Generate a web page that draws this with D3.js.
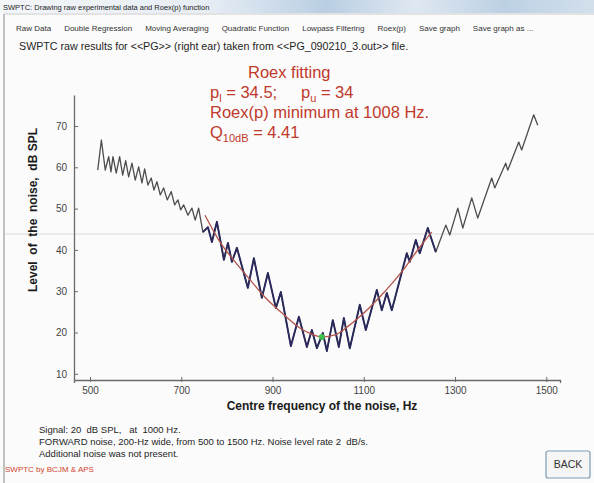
<!DOCTYPE html>
<html>
<head>
<meta charset="utf-8">
<script src="https://cdn.jsdelivr.net/npm/d3@7"></script>
<style>
  html, body { margin: 0; padding: 0; background: #fbfbfb; }
  svg { display: block; font-family: Arial, "Liberation Sans", sans-serif; }
  text { white-space: pre; }
</style>
</head>
<body>
<svg id="chart" width="594" height="483"></svg>
<script>
// Tracked noise level (Bekesy-style zigzag) against noise centre frequency
const freqs = [
  517, 525, 533.5, 541, 546, 550.4, 557.6, 565, 571.7, 578.2, 584.8, 592, 599.2, 606.7,
  613.9, 619.8, 627, 634.3, 640.2, 646.8, 654, 661.4, 669.3, 678.1, 685.5, 692.8, 698.7,
  705.2, 714.7, 723.4, 730.6, 738.1,
  747.5, 758.5, 767.2, 778.2, 793.5, 802.3, 811, 822, 846, 859.2, 876.7, 889.9, 907.4,
  918.3, 940.2, 957.8, 975.3, 986.2, 997.2, 1010.3, 1019.1, 1032.2, 1045.4, 1056.3,
  1069.4, 1091.3, 1104.5, 1128.6, 1139.5, 1150.5, 1161.4, 1194.3, 1200.8, 1214, 1222.7,
  1240.3, 1257.8,
  1279.7, 1288.4, 1306, 1317, 1336.6, 1349.8, 1380.4, 1387, 1411, 1415.5, 1439.6, 1446,
  1472.4, 1481.2
];
const levels = [
  59.3, 66.6, 59.3, 62.6, 58.9, 62.6, 58.6, 62.6, 58.1, 61.6, 57.7, 61.0, 56.9, 60.1,
  56.2, 59.6, 55.7, 57.4, 54.5, 56.5, 53.3, 55.0, 52.1, 54.1, 50.9, 52.1, 49.7,
  50.9, 48.4, 50.1, 47.2, 50.1,
  44.3, 45.5, 41.9, 46.8, 37.6, 41.7, 37.1, 40.5, 30.8, 38.0, 28.4, 34.4, 25.9,
  29.8, 16.7, 23.8, 16.5, 20.6, 16.2, 19.9, 15.5, 23.0, 16.5, 23.5,
  16.2, 26.7, 20.6, 30.3, 25.4, 29.6, 25.4, 39.2, 37.1, 42.4, 39.2,
  45.3, 39.5,
  46.0, 43.6, 50.1, 45.3, 52.6, 47.7, 57.4, 55.0, 61.0, 59.3, 66.1, 64.2,
  72.7, 70.2
];

// Frequency span used for the Roex(p) fit
const fitRange = [740, 1260];

// Fitted Roex(p) curve
const fitFreqs  = [752, 785, 818, 846, 883, 923, 960, 986, 1008, 1037, 1063, 1091, 1135, 1186, 1223, 1249];
const fitLevels = [48.4, 41.9, 37.1, 33.4, 28.6, 24.5, 21.1, 19.6, 18.9, 19.4, 21.3, 23.8, 28.6, 35.1, 40.7, 44.3];

// Fit parameters
const pLower = 34.5;
const pUpper = 34;
const roexMinFreq = 1008;
const roexMinLevel = 18.9;
const q10dB = 4.41;

const xTicks = [500, 700, 900, 1100, 1300, 1500];
const yTicks = [10, 20, 30, 40, 50, 60, 70];

const menuItems = ["Raw Data", "Double Regression", "Moving Averaging", "Quadratic Function",
                   "Lowpass Filtering", "Roex(p)", "Save graph", "Save graph as ..."];

const svg = d3.select("#chart");
const W = 594, H = 483;

// ---- window chrome ----
const defs = svg.append("defs");
const tg = defs.append("linearGradient").attr("id", "titleGrad").attr("x1", 0).attr("x2", 1).attr("y1", 0).attr("y2", 0);
[["0%", "#f3f6f9"], ["35%", "#e6edf4"], ["55%", "#b9cee3"], ["70%", "#dfe8f1"], ["85%", "#bcd0e4"], ["100%", "#d3e0ec"]]
  .forEach(([o, c]) => tg.append("stop").attr("offset", o).attr("stop-color", c));

svg.append("rect").attr("x", 0).attr("y", 0).attr("width", W).attr("height", H).attr("fill", "#fbfbfb");
svg.append("rect").attr("x", 0).attr("y", 0).attr("width", W).attr("height", 13).attr("fill", "url(#titleGrad)");
svg.append("text").attr("x", 3).attr("y", 9.5).attr("font-size", 7.5).attr("fill", "#222")
  .text("SWPTC: Drawing raw experimental data and Roex(p) function");
svg.append("line").attr("x1", 4).attr("x2", 4).attr("y1", 14).attr("y2", H).attr("stroke", "#9a9a9a").attr("stroke-width", 1.2);
svg.append("line").attr("x1", 4).attr("x2", W).attr("y1", 14).attr("y2", 14).attr("stroke", "#c9c9c9").attr("stroke-width", 1);

// menu bar
let mx = 16;
menuItems.forEach(m => {
  const t = svg.append("text").attr("x", mx).attr("y", 31).attr("font-size", 8).attr("fill", "#333").text(m);
  mx += t.node().getComputedTextLength() + 13;
});

// heading
svg.append("text").attr("x", 19).attr("y", 50).attr("font-size", 10.7).attr("fill", "#1e1e1e")
  .text("SWPTC raw results for <<PG>> (right ear) taken from <<PG_090210_3.out>> file.");

// faint horizontal streak across the window
svg.append("line").attr("x1", 5).attr("x2", W).attr("y1", 234).attr("y2", 234)
  .attr("stroke", "#e4e4e4").attr("stroke-width", 1.5);

// ---- scales & axes ----
const x = d3.scaleLinear().domain([465, 1530]).range([74, 560]);
const y = d3.scaleLinear().domain([8.5, 77.5]).range([380, 95]);

const gx = svg.append("g").attr("transform", "translate(0,380)")
  .call(d3.axisBottom(x).tickValues(xTicks).tickSizeOuter(0).tickSize(3).tickPadding(4).tickFormat(d3.format("d")));
gx.select(".domain").attr("stroke", "#6a6a6a").attr("stroke-width", 1.3);
gx.selectAll(".tick line").attr("y1", -3).attr("y2", 2).attr("stroke", "#6a6a6a");
gx.selectAll(".tick text").attr("font-size", 10).attr("fill", "#444").attr("font-family", "Arial, 'Liberation Sans', sans-serif");

const gy = svg.append("g").attr("transform", "translate(74,0)")
  .call(d3.axisLeft(y).tickValues(yTicks).tickSizeOuter(0).tickSizeInner(-4).tickPadding(7));
gy.select(".domain").attr("stroke", "#6a6a6a").attr("stroke-width", 1.3);
gy.selectAll(".tick line").attr("stroke", "#6a6a6a");
gy.selectAll(".tick text").attr("font-size", 10).attr("fill", "#444").attr("font-family", "Arial, 'Liberation Sans', sans-serif");

// axis titles
svg.append("text").attr("x", 322).attr("y", 410).attr("text-anchor", "middle")
  .attr("font-size", 12).attr("font-weight", "bold").attr("fill", "#1a1a1a")
  .text("Centre frequency of the noise, Hz");
svg.append("text").attr("transform", "translate(37,210) rotate(-90)").attr("text-anchor", "middle")
  .attr("font-size", 12).attr("font-weight", "bold").attr("fill", "#1a1a1a")
  .text("Level  of  the  noise,  dB SPL");

// ---- data ----
const pts = freqs.map((f, i) => [f, levels[i]]);
const line = d3.line().x(d => x(d[0])).y(d => y(d[1]));

svg.append("path").datum(pts).attr("d", line)
  .attr("fill", "none").attr("stroke", "#4d4d4d").attr("stroke-width", 1.3).attr("stroke-linejoin", "round");

const fitPts = pts.filter(d => d[0] >= fitRange[0] && d[0] <= fitRange[1]);
svg.append("path").datum(fitPts).attr("d", line)
  .attr("fill", "none").attr("stroke", "#29295c").attr("stroke-width", 1.9).attr("stroke-linejoin", "round");

const roex = fitFreqs.map((f, i) => [f, fitLevels[i]]);
svg.append("path").datum(roex).attr("d", d3.line().curve(d3.curveMonotoneX).x(d => x(d[0])).y(d => y(d[1])))
  .attr("fill", "none").attr("stroke", "#b3544b").attr("stroke-width", 1.3);

svg.append("circle").attr("cx", x(roexMinFreq)).attr("cy", y(roexMinLevel)).attr("r", 3)
  .attr("fill", "#3fbf4f");

// ---- annotation ----
const red = "#c0392b";
const ann = svg.append("g").attr("fill", red).attr("font-size", 16.5);
ann.append("text").attr("x", 248).attr("y", 78).text("Roex fitting");
const l2 = ann.append("text").attr("x", 210).attr("y", 98);
l2.append("tspan").text("p");
l2.append("tspan").attr("font-size", 11).attr("dy", 4).text("l");
l2.append("tspan").attr("dy", -4).text(` = ${pLower};`);
const l2b = ann.append("text").attr("x", 301).attr("y", 98);
l2b.append("tspan").text("p");
l2b.append("tspan").attr("font-size", 11).attr("dy", 4).text("u");
l2b.append("tspan").attr("dy", -4).text(` = ${pUpper}`);
ann.append("text").attr("x", 210).attr("y", 118).text(`Roex(p) minimum at ${roexMinFreq} Hz.`);
const l4 = ann.append("text").attr("x", 210).attr("y", 138);
l4.append("tspan").text("Q");
l4.append("tspan").attr("font-size", 11).attr("dy", 4).text("10dB");
l4.append("tspan").attr("dy", -4).text(` = ${q10dB}`);

// ---- footer ----
const foot = svg.append("g").attr("font-size", 9.5).attr("fill", "#1e1e1e");
foot.append("text").attr("x", 39).attr("y", 433).text("Signal: 20  dB SPL,   at  1000 Hz.");
foot.append("text").attr("x", 39).attr("y", 445).text("FORWARD noise, 200-Hz wide, from 500 to 1500 Hz. Noise level rate 2  dB/s.");
foot.append("text").attr("x", 39).attr("y", 457).text("Additional noise was not present.");
svg.append("text").attr("x", 5).attr("y", 472).attr("font-size", 8).attr("fill", "#d2452f").text("SWPTC by BCJM & APS");

svg.append("rect").attr("x", 546).attr("y", 451).attr("width", 44).attr("height", 27).attr("rx", 2)
  .attr("fill", "#f5f5f5").attr("stroke", "#7d9bb3").attr("stroke-width", 1.2);
svg.append("text").attr("x", 568).attr("y", 468).attr("text-anchor", "middle").attr("font-size", 10.5)
  .attr("fill", "#333").text("BACK");
</script>
</body>
</html>
